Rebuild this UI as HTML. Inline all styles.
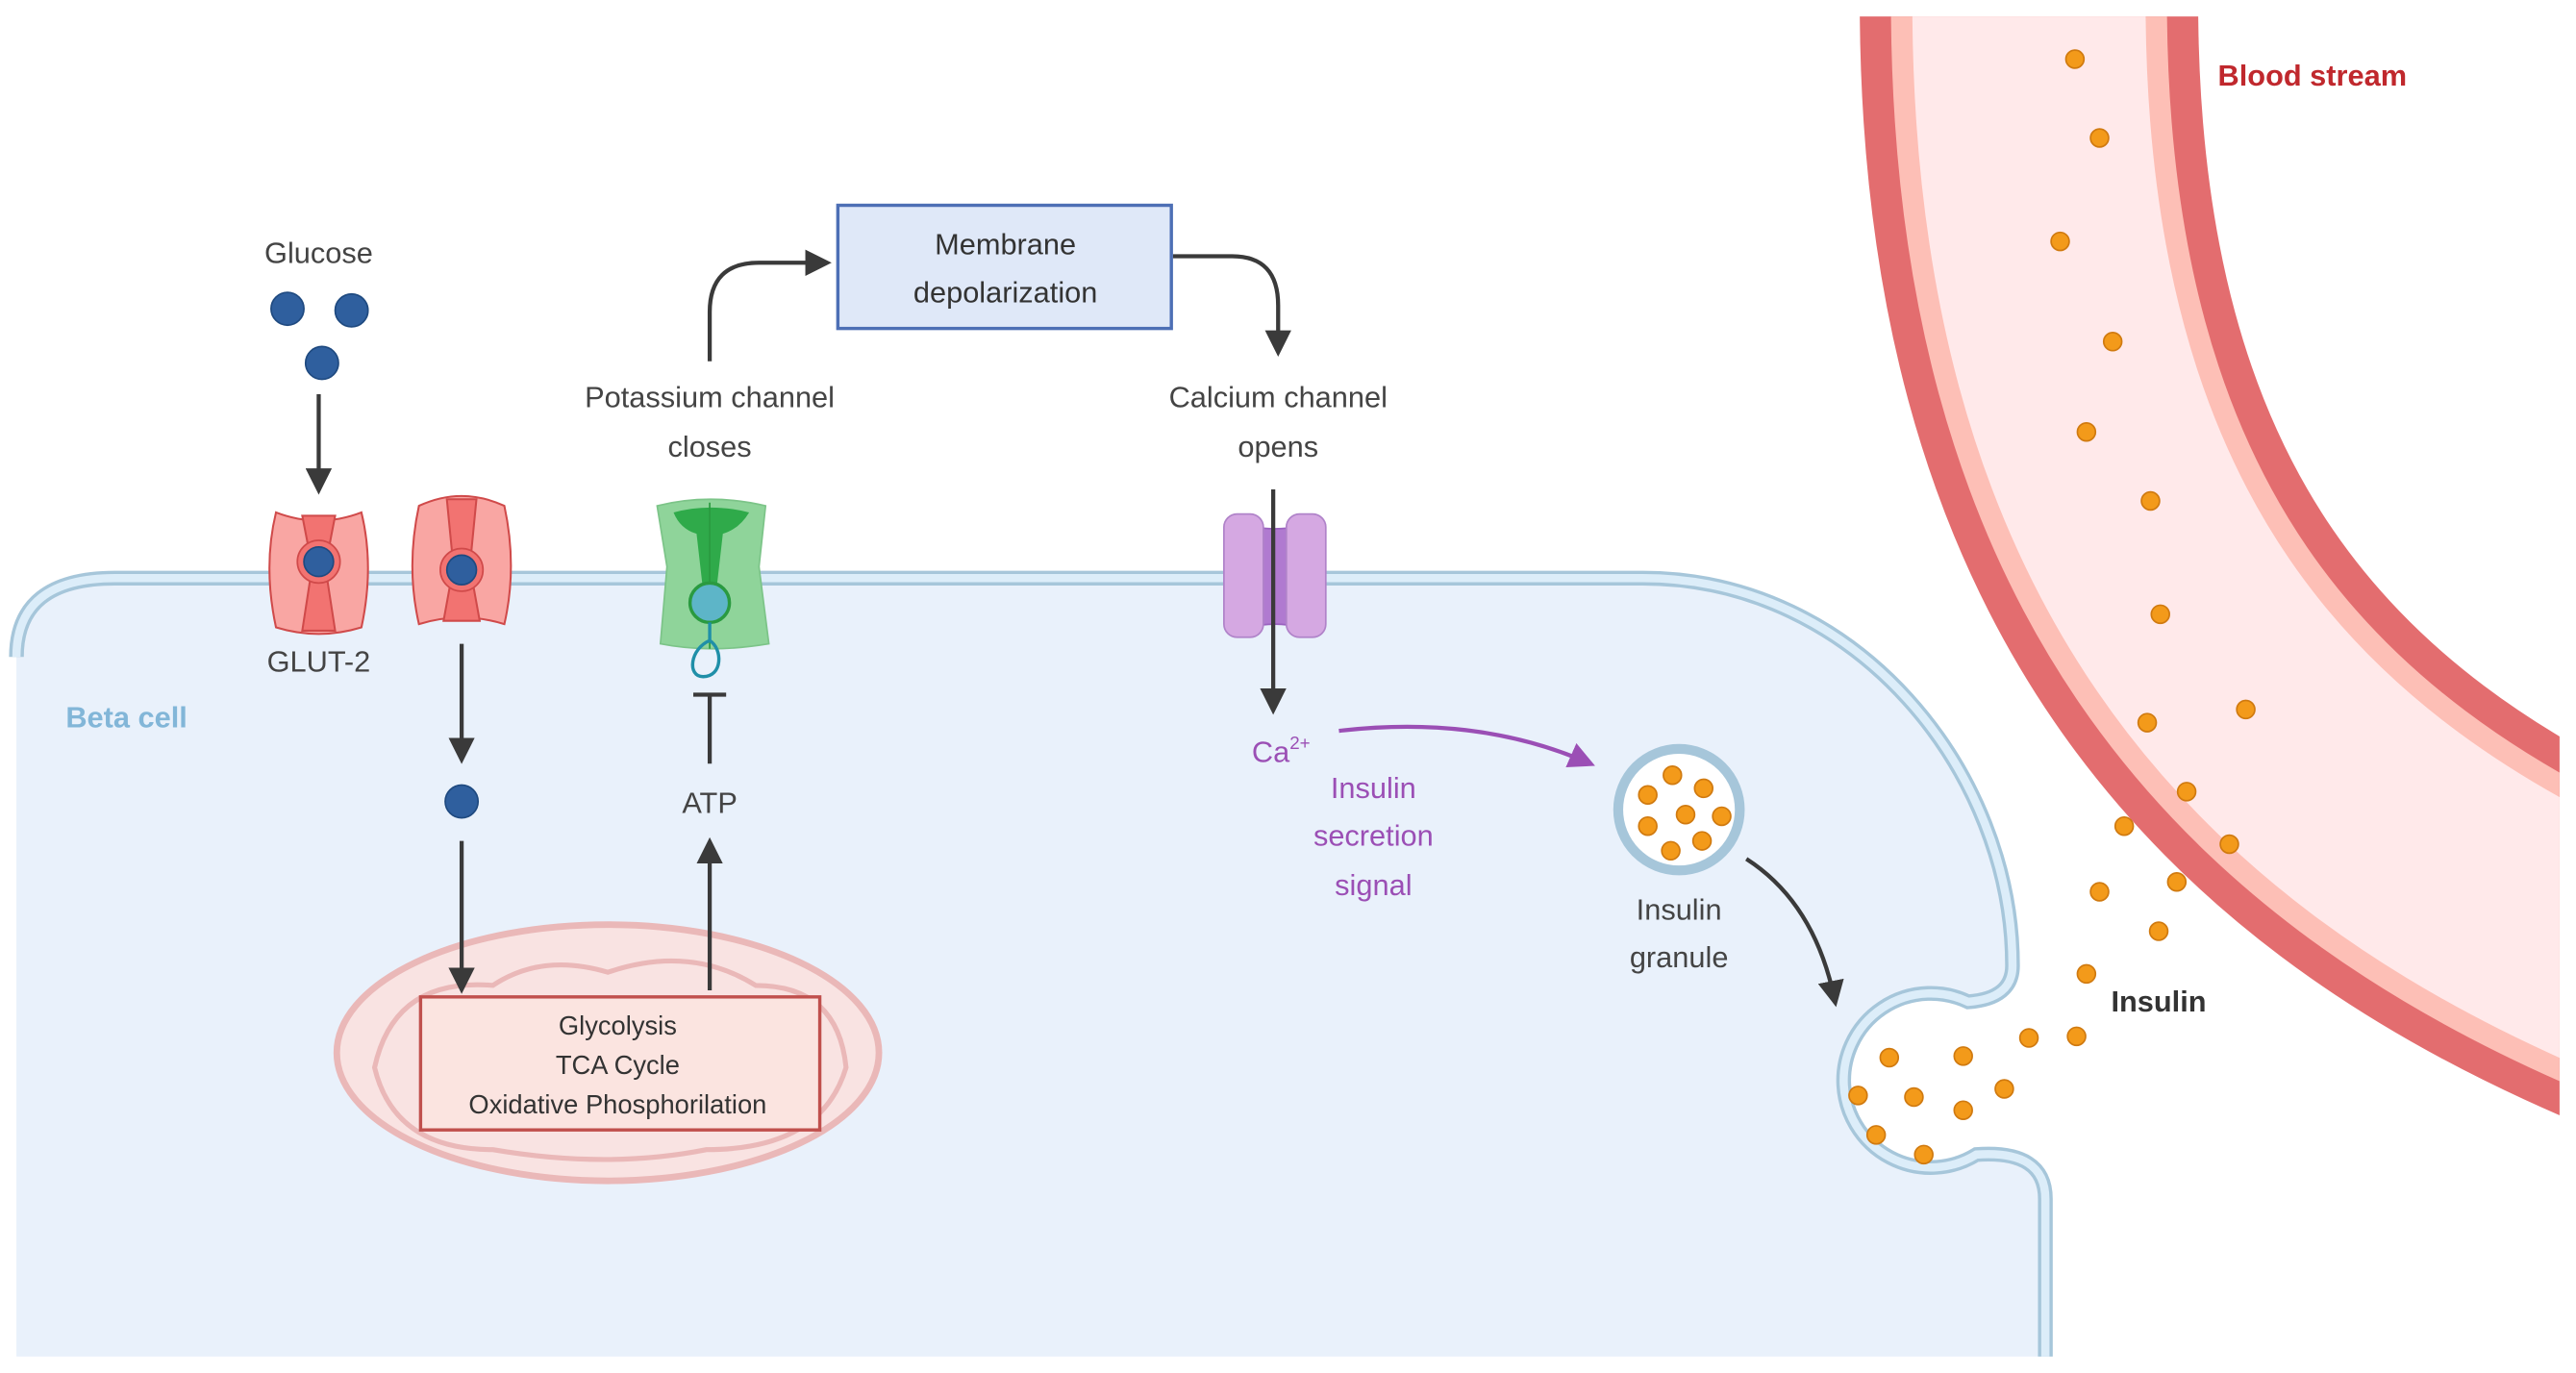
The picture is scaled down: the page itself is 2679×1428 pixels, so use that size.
<!DOCTYPE html>
<html><head><meta charset="utf-8"><style>
html,body{margin:0;padding:0;background:#fff;}
svg{display:block;}
text{font-family:"Liberation Sans",sans-serif;}
</style></head><body>
<svg width="2679" height="1428" viewBox="0 0 1568 836" preserveAspectRatio="none" xmlns="http://www.w3.org/2000/svg">
<defs>
<marker id="ahd" viewBox="0 0 10 10" refX="8" refY="5" markerWidth="16" markerHeight="16" orient="auto" markerUnits="userSpaceOnUse"><path d="M0,0 L10,5 L0,10 Z" fill="#3a3a3a"/></marker>
<marker id="ahp" viewBox="0 0 10 10" refX="8" refY="5" markerWidth="16" markerHeight="16" orient="auto" markerUnits="userSpaceOnUse"><path d="M0,0 L10,5 L0,10 Z" fill="#9b4fb5"/></marker>
<clipPath id="vc"><rect x="0" y="10" width="1558" height="820"/></clipPath>
</defs>
<rect width="1568" height="836" fill="#fff"/>

<!-- blood vessel -->
<g clip-path="url(#vc)" fill="none">
<path d="M1235,0 C1235,330 1380,490 1600,585" stroke="#e36d6f" stroke-width="206"/>
<path d="M1235,0 C1235,330 1380,490 1600,585" stroke="#fdbfb6" stroke-width="168"/>
<path d="M1235,0 C1235,330 1380,490 1600,585" stroke="#ffe9ea" stroke-width="142"/>
</g>

<!-- cell -->
<path d="M10,826 L10,400 Q10,352 70,352 L1000,352 C1130,352 1225,470 1225,588 Q1225,608 1198,610 A53,53 0 1 0 1203,703 Q1245,700 1245,730 L1245,826 Z" fill="#e9f1fb"/>
<path d="M10,400 Q10,352 70,352 L1000,352 C1130,352 1225,470 1225,588 Q1225,608 1198,610 A53,53 0 1 0 1203,703 Q1245,700 1245,730 L1245,826" fill="none" stroke="#a6c6da" stroke-width="9"/>
<path d="M10,400 Q10,352 70,352 L1000,352 C1130,352 1225,470 1225,588 Q1225,608 1198,610 A53,53 0 1 0 1203,703 Q1245,700 1245,730 L1245,826" fill="none" stroke="#dcedf9" stroke-width="5"/>

<!-- insulin dots -->
<g fill="#f39a1a" stroke="#d07a10" stroke-width="1">
<circle cx="1263" cy="36" r="5.5"/><circle cx="1278" cy="84" r="5.5"/><circle cx="1254" cy="147" r="5.5"/><circle cx="1286" cy="208" r="5.5"/><circle cx="1270" cy="263" r="5.5"/><circle cx="1309" cy="305" r="5.5"/><circle cx="1315" cy="374" r="5.5"/><circle cx="1307" cy="440" r="5.5"/><circle cx="1367" cy="432" r="5.5"/><circle cx="1331" cy="482" r="5.5"/><circle cx="1357" cy="514" r="5.5"/><circle cx="1293" cy="503" r="5.5"/><circle cx="1325" cy="537" r="5.5"/><circle cx="1278" cy="543" r="5.5"/><circle cx="1314" cy="567" r="5.5"/><circle cx="1270" cy="593" r="5.5"/><circle cx="1264" cy="631" r="5.5"/><circle cx="1235" cy="632" r="5.5"/><circle cx="1220" cy="663" r="5.5"/><circle cx="1195" cy="643" r="5.5"/><circle cx="1150" cy="644" r="5.5"/><circle cx="1131" cy="667" r="5.5"/><circle cx="1165" cy="668" r="5.5"/><circle cx="1195" cy="676" r="5.5"/><circle cx="1142" cy="691" r="5.5"/><circle cx="1171" cy="703" r="5.5"/>
</g>

<!-- granule -->
<circle cx="1022" cy="493" r="37" fill="#fff" stroke="#a6c6da" stroke-width="6"/>
<g fill="#f39a1a" stroke="#d07a10" stroke-width="1">
<circle cx="1018" cy="472" r="5.5"/><circle cx="1037" cy="480" r="5.5"/><circle cx="1003" cy="484" r="5.5"/><circle cx="1026" cy="496" r="5.5"/><circle cx="1048" cy="497" r="5.5"/><circle cx="1003" cy="503" r="5.5"/><circle cx="1036" cy="512" r="5.5"/><circle cx="1017" cy="518" r="5.5"/>
</g>

<text x="1350" y="52" font-size="18" font-weight="bold" fill="#c0282d">Blood stream</text>
<text x="1285" y="616" font-size="18" font-weight="bold" fill="#333">Insulin</text>
<text x="1022" y="560" font-size="18" fill="#444" text-anchor="middle">Insulin</text>
<text x="1022" y="589" font-size="18" fill="#444" text-anchor="middle">granule</text>
<text x="40" y="443" font-size="18" font-weight="bold" fill="#82b6d8">Beta cell</text>

<!-- mitochondrion -->
<ellipse cx="370" cy="641" rx="165" ry="78" fill="#f9e3e2" stroke="#eab8b8" stroke-width="4"/>
<path d="M228,650 Q240,595 300,600 Q330,580 370,592 Q420,575 460,600 Q510,600 515,650 Q500,700 430,700 Q370,712 300,700 Q240,700 228,650 Z" fill="none" stroke="#eab8b8" stroke-width="3"/>
<rect x="256" y="607" width="243" height="81" fill="#fbe4e0" stroke="#c0504d" stroke-width="2"/>
<text x="376" y="630" font-size="16" fill="#333" text-anchor="middle">Glycolysis</text>
<text x="376" y="654" font-size="16" fill="#333" text-anchor="middle">TCA Cycle</text>
<text x="376" y="678" font-size="16" fill="#333" text-anchor="middle">Oxidative Phosphorilation</text>

<!-- glucose -->
<text x="194" y="160" font-size="18" fill="#444" text-anchor="middle">Glucose</text>
<g fill="#2f5f9e" stroke="#1f4a80" stroke-width="1">
<circle cx="175" cy="188" r="10"/><circle cx="214" cy="189" r="10"/><circle cx="196" cy="221" r="10"/>
</g>
<g stroke="#3a3a3a" stroke-width="2.5" fill="none">
<line x1="194" y1="240" x2="194" y2="298" marker-end="url(#ahd)"/>
<line x1="281" y1="392" x2="281" y2="462" marker-end="url(#ahd)"/>
<line x1="281" y1="512" x2="281" y2="602" marker-end="url(#ahd)"/>
<line x1="432" y1="603" x2="432" y2="513" marker-end="url(#ahd)"/>
<line x1="432" y1="465" x2="432" y2="424"/>
<line x1="422" y1="423" x2="442" y2="423"/>
<path d="M432,220 L432,190 Q432,160 462,160 L503,160" marker-end="url(#ahd)"/>
<path d="M714,156 L750,156 Q778,156 778,186 L778,214" marker-end="url(#ahd)"/>
<path d="M1063,523 Q1105,550 1117,610" marker-end="url(#ahd)"/>
</g>
<text x="194" y="409" font-size="18" fill="#444" text-anchor="middle">GLUT-2</text>

<!-- GLUT transporters -->
<g stroke="#d04a4a" stroke-width="1.2">
<path d="M168,312 Q194,322 220,312 Q228,345 220,382 Q194,390 168,382 Q160,345 168,312 Z" fill="#f9a6a3"/>
<path d="M184,314 L204,314 L198,345 L204,384 L184,384 L190,345 Z" fill="#f27371"/>
<path d="M255,308 Q281,296 307,308 Q315,345 307,380 Q281,372 255,380 Q247,345 255,308 Z" fill="#f9a6a3"/>
<path d="M272,304 L290,304 L286,345 L292,378 L270,378 L276,345 Z" fill="#f27371"/>
</g>
<circle cx="194" cy="342" r="13" fill="#f27371" stroke="#d04a4a"/>
<circle cx="281" cy="347" r="13" fill="#f27371" stroke="#d04a4a"/>
<g fill="#2f5f9e" stroke="#1f4a80"><circle cx="194" cy="342" r="9"/><circle cx="281" cy="347" r="9"/><circle cx="281" cy="488" r="10"/></g>

<!-- K channel -->
<text x="432" y="248" font-size="18" fill="#444" text-anchor="middle">Potassium channel</text>
<text x="432" y="278" font-size="18" fill="#444" text-anchor="middle">closes</text>
<path d="M400,308 Q432,300 466,308 L462,345 L468,392 Q432,398 402,392 L406,345 Z" fill="#8fd49a" stroke="#7cc488"/>
<path d="M410,312 Q432,306 456,312 Q450,322 440,325 L436,360 L428,360 L424,325 Q414,322 410,312 Z" fill="#2faa4a"/>
<line x1="432" y1="306" x2="432" y2="395" stroke="#2a9a40" stroke-width="1"/>
<circle cx="432" cy="367" r="12" fill="#5db5c8" stroke="#2a9a40" stroke-width="2"/>
<path d="M432,379 L432,390 C420,395 418,412 428,412 C440,412 440,395 432,390" fill="none" stroke="#1f8fa8" stroke-width="2"/>
<text x="432" y="495" font-size="18" fill="#444" text-anchor="middle">ATP</text>

<!-- Membrane box -->
<rect x="510" y="125" width="203" height="75" fill="#dfe8f8" stroke="#4d6fb5" stroke-width="2"/>
<text x="612" y="155" font-size="18" fill="#333" text-anchor="middle">Membrane</text>
<text x="612" y="184" font-size="18" fill="#333" text-anchor="middle">depolarization</text>

<!-- Ca channel -->
<text x="778" y="248" font-size="18" fill="#444" text-anchor="middle">Calcium channel</text>
<text x="778" y="278" font-size="18" fill="#444" text-anchor="middle">opens</text>
<path d="M760,320 Q776,324 792,320 L792,382 Q776,378 760,382 Z" fill="#b07ad0" stroke="#9a62bf"/>
<rect x="745" y="313" width="24" height="75" rx="8" fill="#d5a8e2" stroke="#b083c9"/>
<rect x="783" y="313" width="24" height="75" rx="8" fill="#d5a8e2" stroke="#b083c9"/>
<line x1="775" y1="298" x2="775" y2="432" stroke="#3a3a3a" stroke-width="2.5" marker-end="url(#ahd)"/>

<!-- Ca2+ and signal -->
<text x="762" y="464" font-size="18" fill="#9b4fb5">Ca<tspan font-size="11" dy="-8">2+</tspan></text>
<path d="M815,445 Q900,435 968,465" fill="none" stroke="#9b4fb5" stroke-width="2.5" marker-end="url(#ahp)"/>
<text x="836" y="486" font-size="18" fill="#9b4fb5" text-anchor="middle">Insulin</text>
<text x="836" y="515" font-size="18" fill="#9b4fb5" text-anchor="middle">secretion</text>
<text x="836" y="545" font-size="18" fill="#9b4fb5" text-anchor="middle">signal</text>
</svg>
</body></html>
